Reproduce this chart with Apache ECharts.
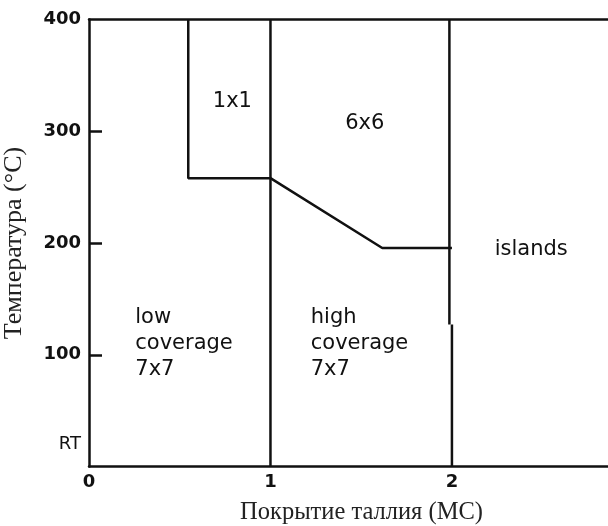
<!DOCTYPE html>
<html>
<head>
<meta charset="utf-8">
<script src="https://cdn.jsdelivr.net/npm/echarts@6/dist/echarts.min.js"></script>
<style>
  html, body { margin: 0; padding: 0; background: #fff; }
  #chart { width: 608px; height: 526px; }
</style>
</head>
<body>
<div id="chart"></div>
<script>
// Phase boundaries of Tl on Si(111): coverage (ML) vs. temperature (°C)
const xTicks = [0, 1, 2];
const yTicks = [100, 200, 300, 400];
const roomTemp = 20;
const roomTempLabel = 'RT';

const boundary1x1 = [[0.547, 400], [0.547, 258], [1, 258]];
const boundary6x6 = [[1, 258], [1.616, 195.5], [2, 195.5]];
const boundaryOneML = [[1, 0], [1, 400]];
const boundaryTwoMLUpper = [[1.986, 400], [1.986, 127]];
const boundaryTwoMLLower = [[2, 127], [2, 0]];

const centerLabels = ['1x1', '6x6', 'islands'];
const centerLabelX = [0.79, 1.52, 2.437];
const centerLabelY = [327, 307, 194.5];

const blockLabels = ['low\ncoverage\n7x7', 'high\ncoverage\n7x7'];
const blockLabelX = [0.255, 1.222];
const blockLabelY = [145, 145];

const xTitle = 'Покрытие таллия (МС)';
const yTitle = 'Температура (°C)';

const ink = '#111';
const lineStyle = { color: ink, width: 2.5 };

function seg(data) {
  return {
    type: 'line', data: data, symbol: 'none', silent: true,
    lineStyle: { color: ink, width: 2.5 }, z: 3
  };
}

const chart = echarts.init(document.getElementById('chart'), null, { renderer: 'canvas' });
chart.setOption({
  animation: false,
  backgroundColor: '#fff',
  grid: { left: 89, top: 19.5, right: 0, bottom: 59.5, containLabel: false, outerBoundsMode: 'none' },
  xAxis: [{
    type: 'value', min: 0, max: 2.86, interval: 1,
    axisLine: { show: true, onZero: false, lineStyle: lineStyle },
    axisTick: { show: false },
    splitLine: { show: false },
    axisLabel: {
      color: ink, fontFamily: 'DejaVu Sans', fontWeight: 'bold', fontSize: 18, margin: 7,
      showMaxLabel: false,
      formatter: v => xTicks.indexOf(v) >= 0 ? String(v) : ''
    },
    name: xTitle, nameLocation: 'middle', nameGap: 34,
    nameTextStyle: { color: '#222', fontFamily: 'Liberation Serif', fontSize: 24.5,
                     padding: [0, 0, 0, 26] }
  }, {
    type: 'value', min: 0, max: 2.86, position: 'top',
    axisLine: { show: true, onZero: false, lineStyle: lineStyle },
    axisTick: { show: false }, axisLabel: { show: false }, splitLine: { show: false }
  }],
  yAxis: {
    type: 'value', min: 0, max: 400, interval: 100,
    axisLine: { show: true, onZero: false, lineStyle: lineStyle },
    axisTick: { show: true, inside: true, length: 13, lineStyle: lineStyle,
                customValues: [100, 200, 300] },
    splitLine: { show: false },
    axisLabel: {
      color: ink, fontFamily: 'DejaVu Sans', fontWeight: 'bold', fontSize: 18, margin: 8,
      customValues: [roomTemp].concat(yTicks),
      formatter: v => v === roomTemp ? '{rt|' + roomTempLabel + '}' : String(v),
      rich: { rt: { fontFamily: 'DejaVu Sans', fontWeight: 'normal', fontSize: 18, color: ink } }
    },
    name: yTitle, nameLocation: 'middle', nameGap: 62, nameRotate: 90,
    nameTextStyle: { color: '#222', fontFamily: 'Liberation Serif', fontSize: 26 }
  },
  series: [
    seg(boundary1x1),
    seg(boundary6x6),
    seg(boundaryOneML),
    seg(boundaryTwoMLUpper),
    seg(boundaryTwoMLLower),
    {
      type: 'scatter', symbolSize: 0, silent: true, itemStyle: { opacity: 1 },
      data: centerLabels.map((t, i) => ({ value: [centerLabelX[i], centerLabelY[i]], name: t })),
      label: {
        show: true, position: 'inside', formatter: p => p.name,
        color: ink, fontFamily: 'DejaVu Sans', fontSize: 21
      }
    },
    {
      type: 'scatter', symbolSize: 0, silent: true, itemStyle: { opacity: 1 },
      data: blockLabels.map((t, i) => ({ value: [blockLabelX[i], blockLabelY[i]], name: t })),
      label: {
        show: true, position: 'inside', align: 'left', verticalAlign: 'top',
        formatter: p => p.name, lineHeight: 26,
        color: ink, fontFamily: 'DejaVu Sans', fontSize: 21
      }
    }
  ]
});
</script>
</body>
</html>
